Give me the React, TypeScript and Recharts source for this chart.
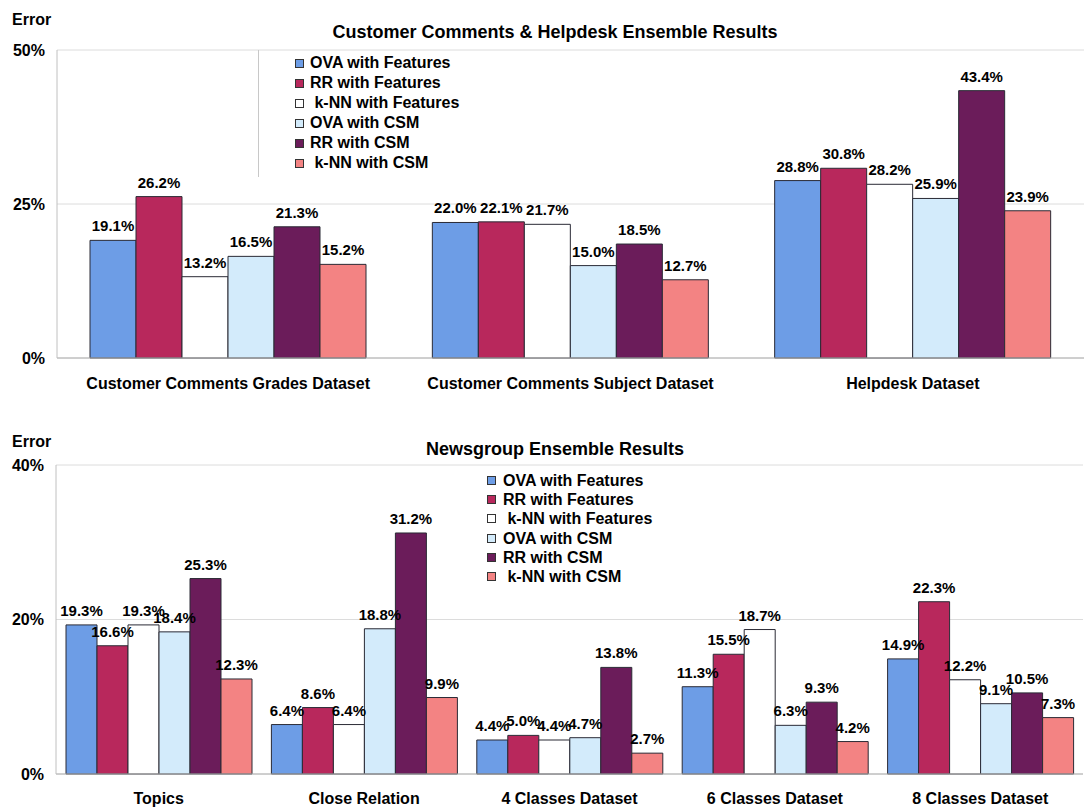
import { BarChart, Bar, XAxis, YAxis, CartesianGrid, Legend, LabelList } from "recharts";

// Shared series (six methods per dataset)
const SERIES_NAMES = [
  "OVA with Features",
  "RR with Features",
  "\u00a0k-NN with Features",
  "OVA with CSM",
  "RR with CSM",
  "\u00a0k-NN with CSM",
];
const SERIES_KEYS = ["ovaFeat", "rrFeat", "knnFeat", "ovaCsm", "rrCsm", "knnCsm"];
const SERIES_COLORS = ["#6d9de6", "#b8285c", "#ffffff", "#d3ebfb", "#6b1c5a", "#f38383"];

// Top chart: Customer Comments & Helpdesk
const TOP_CATEGORIES = [
  "Customer Comments Grades Dataset",
  "Customer Comments Subject Dataset",
  "Helpdesk Dataset",
];
const TOP_OVA_FEAT = [19.1, 22.0, 28.8];
const TOP_RR_FEAT = [26.2, 22.1, 30.8];
const TOP_KNN_FEAT = [13.2, 21.7, 28.2];
const TOP_OVA_CSM = [16.5, 15.0, 25.9];
const TOP_RR_CSM = [21.3, 18.5, 43.4];
const TOP_KNN_CSM = [15.2, 12.7, 23.9];
const TOP_TICKS = [0, 25, 50];

// Bottom chart: Newsgroup
const NEWS_CATEGORIES = [
  "Topics",
  "Close Relation",
  "4 Classes Dataset",
  "6 Classes Dataset",
  "8 Classes Dataset",
];
const NEWS_OVA_FEAT = [19.3, 6.4, 4.4, 11.3, 14.9];
const NEWS_RR_FEAT = [16.6, 8.6, 5.0, 15.5, 22.3];
const NEWS_KNN_FEAT = [19.3, 6.4, 4.4, 18.7, 12.2];
const NEWS_OVA_CSM = [18.4, 18.8, 4.7, 6.3, 9.1];
const NEWS_RR_CSM = [25.3, 31.2, 13.8, 9.3, 10.5];
const NEWS_KNN_CSM = [12.3, 9.9, 2.7, 4.2, 7.3];
const NEWS_TICKS = [0, 20, 40];

const FONT = '"Liberation Sans", Arial, sans-serif';
const TEXT_STYLE = { fontSize: 16, fontWeight: 700, fill: "#000" };
const VALUE_STYLE = { fontSize: 15, fontWeight: 700, fill: "#000" };

function buildRows(categories: string[], cols: number[][]) {
  return categories.map((name, i) => {
    const row: Record<string, string | number> = { name };
    SERIES_KEYS.forEach((k, s) => {
      row[k] = cols[s][i];
    });
    return row;
  });
}

const topData = buildRows(TOP_CATEGORIES, [
  TOP_OVA_FEAT, TOP_RR_FEAT, TOP_KNN_FEAT, TOP_OVA_CSM, TOP_RR_CSM, TOP_KNN_CSM,
]);
const newsData = buildRows(NEWS_CATEGORIES, [
  NEWS_OVA_FEAT, NEWS_RR_FEAT, NEWS_KNN_FEAT, NEWS_OVA_CSM, NEWS_RR_CSM, NEWS_KNN_CSM,
]);

const pct = (v: unknown) => `${Number(v).toFixed(1)}%`;

interface LegendBoxProps {
  rowHeight: number;
  iconGap: number;
  paddingLeft: number;
  paddingTop: number;
  border: boolean;
}

function LegendBox({ rowHeight, iconGap, paddingLeft, paddingTop, border }: LegendBoxProps) {
  return (
    <div
      style={{
        borderLeft: border ? "1px solid #c8c8c8" : "none",
        paddingLeft,
        paddingTop,
        paddingBottom: 4,
        paddingRight: 10,
        fontFamily: FONT,
        fontSize: 16,
        fontWeight: 700,
        color: "#000",
      }}
    >
      {SERIES_NAMES.map((n, i) => (
        <div
          key={n}
          style={{ height: rowHeight, lineHeight: `${rowHeight}px`, display: "flex", alignItems: "center", whiteSpace: "pre" }}
        >
          <span
            style={{
              display: "inline-block",
              width: 7,
              height: 7,
              background: SERIES_COLORS[i],
              border: "1px solid #333",
              marginRight: iconGap,
            }}
          />
          {n}
        </div>
      ))}
    </div>
  );
}

interface PanelProps {
  data: Record<string, string | number>[];
  ticks: number[];
  width: number;
  height: number;
  margin: { top: number; right: number; bottom: number; left: number };
  yWidth: number;
  catGap: number;
  xTickMargin: number;
  legendPos: { left: number; top: number };
  legend: LegendBoxProps;
}

function Panel({ data, ticks, width, height, margin, yWidth, catGap, xTickMargin, legendPos, legend }: PanelProps) {
  return (
    <BarChart width={width} height={height} data={data} margin={margin} barCategoryGap={catGap} barGap={0}>
      <CartesianGrid vertical={false} stroke="#dcdcdc" />
      <XAxis
        dataKey="name"
        tickLine={false}
        axisLine={{ stroke: "#b0b0b0" }}
        tick={TEXT_STYLE}
        tickMargin={xTickMargin}
        height={30}
        interval={0}
      />
      <YAxis
        domain={[0, ticks[ticks.length - 1]]}
        ticks={ticks}
        tickFormatter={(v) => `${v}%`}
        tickLine={false}
        axisLine={{ stroke: "#c0c0c0" }}
        tick={TEXT_STYLE}
        tickMargin={6}
        width={yWidth}
      />
      <Legend
        layout="vertical"
        align="center"
        verticalAlign="middle"
        wrapperStyle={{ left: legendPos.left, top: legendPos.top, width: "auto" }}
        content={() => <LegendBox {...legend} />}
      />
      {SERIES_KEYS.map((k, i) => (
        <Bar
          key={k}
          dataKey={k}
          name={SERIES_NAMES[i]}
          fill={SERIES_COLORS[i]}
          stroke="#2a2a35"
          strokeWidth={1}
          isAnimationActive={false}
        >
          <LabelList dataKey={k} position="top" offset={9} formatter={pct} style={VALUE_STYLE} />
        </Bar>
      ))}
    </BarChart>
  );
}

const labelStyle: React.CSSProperties = {
  position: "absolute",
  fontFamily: FONT,
  fontWeight: 700,
  color: "#000",
  whiteSpace: "nowrap",
};

export default function App() {
  return (
    <div
      style={{
        position: "absolute",
        left: 0,
        top: 0,
        width: 1089,
        height: 809,
        background: "#fff",
        fontFamily: FONT,
        overflow: "hidden",
      }}
    >
      <div style={{ position: "absolute", left: 0, top: 0 }}>
        <Panel
          data={topData}
          ticks={TOP_TICKS}
          width={1089}
          height={410}
          margin={{ top: 50, right: 5, bottom: 22, left: 0 }}
          yWidth={57}
          catGap={33}
          xTickMargin={14}
          legendPos={{ left: 258, top: 50 }}
          legend={{ rowHeight: 20, iconGap: 6, paddingLeft: 36, paddingTop: 3, border: true }}
        />
      </div>
      <div style={{ position: "absolute", left: 0, top: 420 }}>
        <Panel
          data={newsData}
          ticks={NEWS_TICKS}
          width={1089}
          height={389}
          margin={{ top: 45, right: 6, bottom: 5, left: 0 }}
          yWidth={56}
          catGap={10}
          xTickMargin={13}
          legendPos={{ left: 487, top: 51 }}
          legend={{ rowHeight: 19.2, iconGap: 7, paddingLeft: 0, paddingTop: 0, border: false }}
        />
      </div>
      <div style={{ ...labelStyle, left: 12, top: 12, fontSize: 16, lineHeight: "16px" }}>Error</div>
      <div style={{ ...labelStyle, left: 12, top: 434, fontSize: 16, lineHeight: "16px" }}>Error</div>
      <div style={{ ...labelStyle, left: 0, width: 1110, top: 23, fontSize: 18, lineHeight: "18px", textAlign: "center" }}>
        Customer Comments &amp; Helpdesk Ensemble Results
      </div>
      <div style={{ ...labelStyle, left: 0, width: 1110, top: 440, fontSize: 18, lineHeight: "18px", textAlign: "center" }}>
        Newsgroup Ensemble Results
      </div>
    </div>
  );
}
